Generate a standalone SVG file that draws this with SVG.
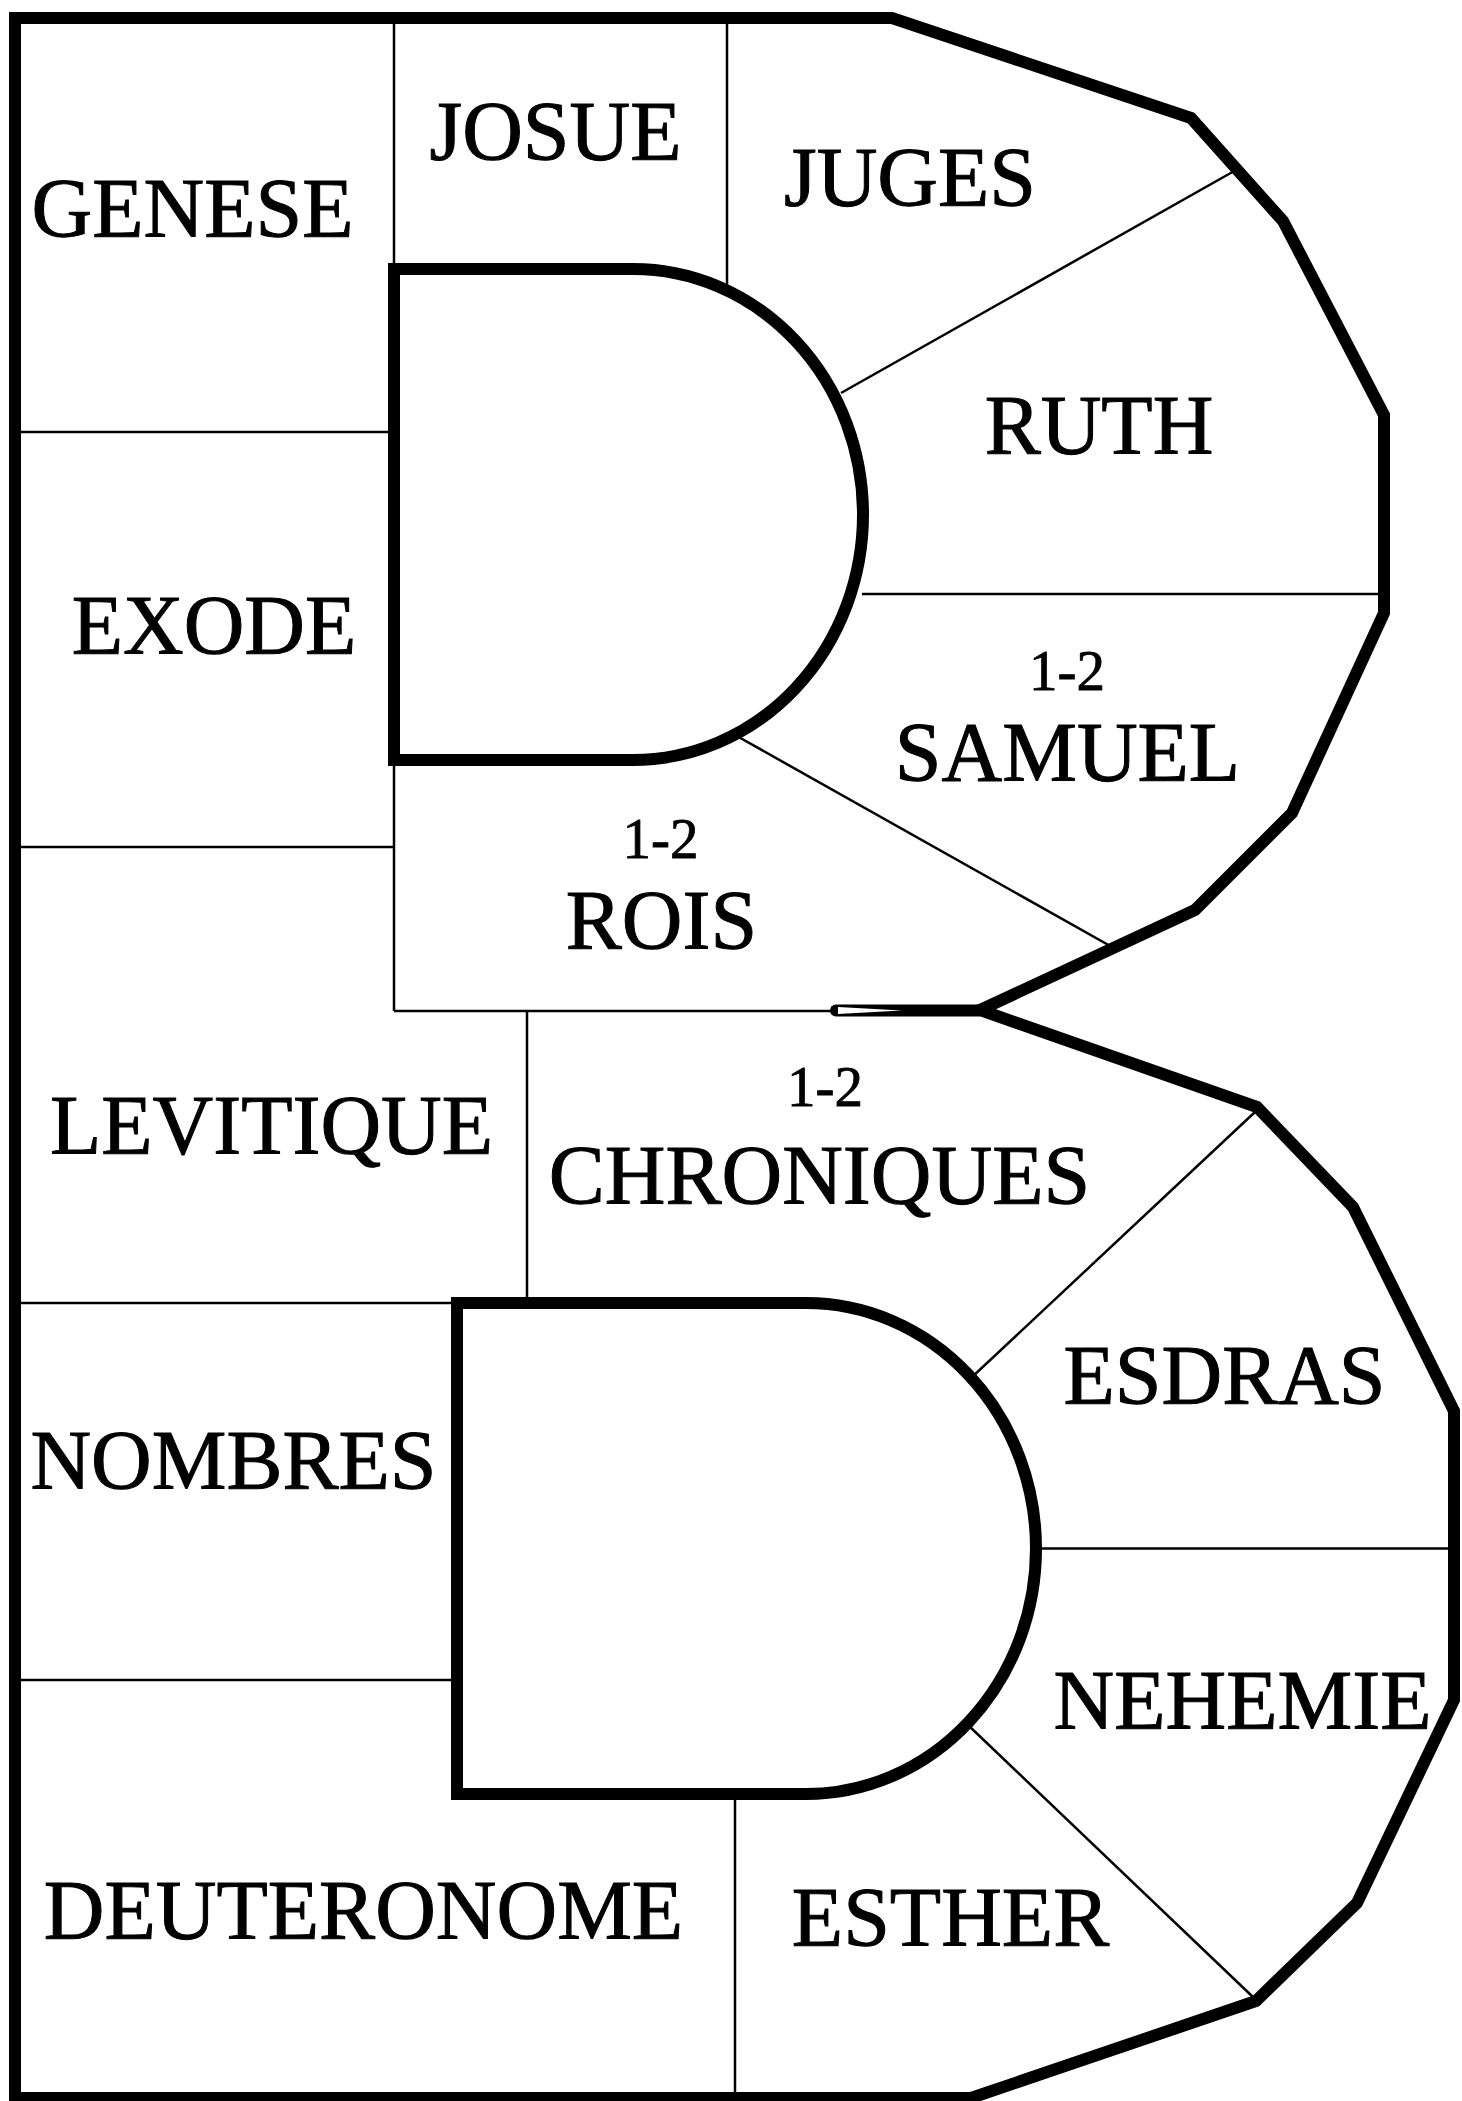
<svg xmlns="http://www.w3.org/2000/svg" width="1462" height="2101" viewBox="0 0 1462 2101">
<style>
.thick{fill:none;stroke:#000;stroke-width:12;stroke-linejoin:miter;stroke-linecap:square}
.thin{fill:none;stroke:#000;stroke-width:2.5}
.lbl{font-family:"Liberation Serif","Times New Roman",serif;font-size:84px;fill:#000;stroke:#000;stroke-width:1;text-anchor:middle}
.num{font-family:"Liberation Serif","Times New Roman",serif;font-size:57px;fill:#000;stroke:#000;stroke-width:0.8;text-anchor:middle}
</style>
<rect x="0" y="0" width="1462" height="2101" fill="#fff"/>
<g id="connectors">
<line class="thin" x1="394" y1="18" x2="394" y2="269"/>
<line class="thin" x1="727" y1="18" x2="727" y2="290"/>
<line class="thin" x1="1236" y1="170" x2="841" y2="393"/>
<line class="thin" x1="862" y1="594" x2="1384" y2="594"/>
<line class="thin" x1="735" y1="735" x2="1112" y2="947"/>
<line class="thin" x1="15" y1="432" x2="394" y2="432"/>
<line class="thin" x1="15" y1="847" x2="394" y2="847"/>
<line class="thin" x1="394" y1="760" x2="394" y2="1011"/>
<line class="thin" x1="394" y1="1011" x2="834" y2="1011"/>
<line class="thin" x1="527" y1="1011" x2="527" y2="1303"/>
<line class="thin" x1="15" y1="1303" x2="457" y2="1303"/>
<line class="thin" x1="1255" y1="1112" x2="971" y2="1378"/>
<line class="thin" x1="1036" y1="1548.5" x2="1454" y2="1548.5"/>
<line class="thin" x1="968" y1="1725" x2="1254" y2="1998"/>
<line class="thin" x1="15" y1="1680" x2="457" y2="1680"/>
<line class="thin" x1="735" y1="1794" x2="735" y2="2097"/>
</g>
<g id="outline">
<path class="thick" d="M15 2098 V18 H892 L1191 118 L1283 221 L1384 415 V613 L1292 813 L1195 910 L980 1010 L1257 1107 L1353 1207 L1454 1411 V1700 L1357 1903 L1256 2001 L971 2098 Z"/>
<path d="M836 1004.5 L980 1004.5 L980 1016.5 L836 1016.5 A6 6 0 0 1 836 1004.5 Z" fill="#000"/>
<polygon points="838,1007 902,1010.5 838,1014" fill="#fff"/>
</g>
<g id="d-upper">
<path class="thick" d="M394 269 H633 A230 245.5 0 0 1 633 760 H394 Z"/>
</g>
<g id="d-lower">
<path class="thick" d="M457 1303 H806 A230 245.5 0 0 1 806 1794 H457 Z"/>
</g>
<g id="genese"><text class="lbl" x="192.5" y="237">GENESE</text></g>
<g id="josue"><text class="lbl" x="555.5" y="160">JOSUE</text></g>
<g id="juges"><text class="lbl" x="910" y="206">JUGES</text></g>
<g id="ruth"><text class="lbl" x="1099" y="454">RUTH</text></g>
<g id="exode"><text class="lbl" x="214" y="654">EXODE</text></g>
<g id="samuel"><text class="num" x="1067" y="690">1-2</text><text class="lbl" x="1067.5" y="781">SAMUEL</text></g>
<g id="rois"><text class="num" x="660.5" y="858">1-2</text><text class="lbl" x="661.5" y="949">ROIS</text></g>
<g id="levitique"><text class="lbl" x="271.5" y="1154">LEVITIQUE</text></g>
<g id="chroniques"><text class="num" x="825" y="1106">1-2</text><text class="lbl" x="819.5" y="1204">CHRONIQUES</text></g>
<g id="esdras"><text class="lbl" x="1224.5" y="1404">ESDRAS</text></g>
<g id="nombres"><text class="lbl" x="233.5" y="1489">NOMBRES</text></g>
<g id="nehemie"><text class="lbl" x="1242.5" y="1729">NEHEMIE</text></g>
<g id="deuteronome"><text class="lbl" x="363.5" y="1939">DEUTERONOME</text></g>
<g id="esther"><text class="lbl" x="950.5" y="1946">ESTHER</text></g>
</svg>
